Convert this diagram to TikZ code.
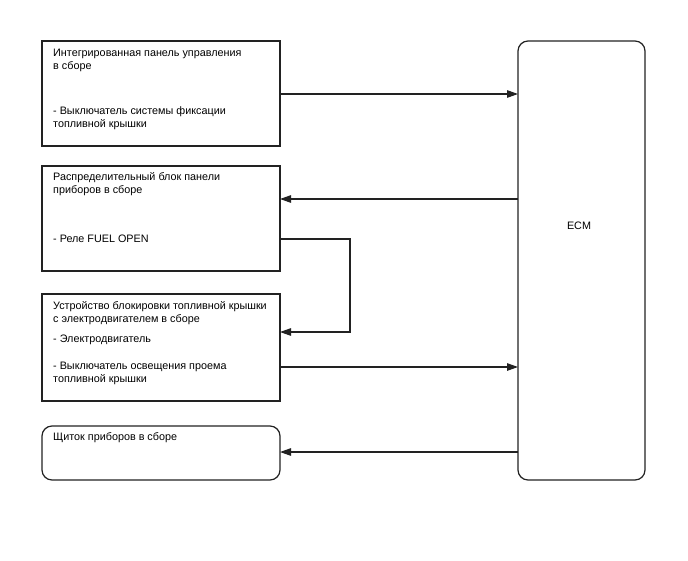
\documentclass[tikz,border=0pt]{standalone}
\usepackage{fontspec}
\setmainfont{Liberation Sans}
\usetikzlibrary{arrows.meta}
\definecolor{ln}{HTML}{222222}
\tikzset{
  x=1pt, y=-1pt,
  box/.style={draw=ln, line width=1.2pt, fill=white},
  rbox/.style={draw=ln, line width=1.2pt, rounded corners=10pt, fill=white},
  lbl/.style={anchor=base west, inner sep=0pt, font=\fontsize{10.8}{13}\selectfont, text=black},
  conn/.style={draw=ln, line width=1.2pt, -{Triangle[length=11pt,width=7.5pt]}},
  wire/.style={draw=ln, line width=1.2pt}
}
\begin{document}
\begin{tikzpicture}
\useasboundingbox (0,0) rectangle (688,560);
% boxes
\draw[box] (42,41) rectangle (280,146);
\draw[box] (42,166) rectangle (280,271);
\draw[box] (42,294) rectangle (280,401);
\draw[rbox] (42,426) rectangle (280,480);
\draw[rbox] (518,41) rectangle (645,480);
% anchor coordinates
\coordinate (b1out) at (280,94);
\coordinate (e1in) at (518,94);
\coordinate (e2out) at (518,199);
\coordinate (b2in) at (280,199);
\coordinate (b2out) at (280,239);
\coordinate (b3in) at (280,332);
\coordinate (b3out) at (280,367);
\coordinate (e3in) at (518,367);
\coordinate (e4out) at (518,452);
\coordinate (b4in) at (280,452);
% texts
\node[lbl] (t1a) at (53,56) {Интегрированная панель управления};
\node[lbl] (t1b) at (53,69) {в сборе};
\node[lbl] (t1c) at (53,114) {- Выключатель системы фиксации};
\node[lbl] (t1d) at (53,127) {топливной крышки};
\node[lbl] (t2a) at (53,180) {Распределительный блок панели};
\node[lbl] (t2b) at (53,193) {приборов в сборе};
\node[lbl] (t2c) at (53,242) {- Реле FUEL OPEN};
\node[lbl] (t3a) at (53,309) {Устройство блокировки топливной крышки};
\node[lbl] (t3b) at (53,322) {с электродвигателем в сборе};
\node[lbl] (t3c) at (53,342) {- Электродвигатель};
\node[lbl] (t3d) at (53,369) {- Выключатель освещения проема};
\node[lbl] (t3e) at (53,382) {топливной крышки};
\node[lbl] (t4a) at (53,440) {Щиток приборов в сборе};
\node[lbl, anchor=base] (ecm) at (579,229) {ECM};
% connectors
\draw[conn] (b1out) -- (e1in);
\draw[conn] (e2out) -- (b2in);
\draw[conn] (b2out) -| (350,300) |- (b3in);
\draw[conn] (b3out) -- (e3in);
\draw[conn] (e4out) -- (b4in);
\end{tikzpicture}
\end{document}
